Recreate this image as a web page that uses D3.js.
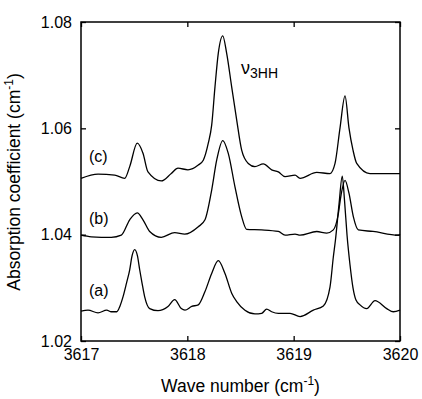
<!DOCTYPE html>
<html>
<head>
<meta charset="utf-8">
<script src="https://cdn.jsdelivr.net/npm/d3@7"></script>
<style>
  body { margin: 0; background: #fff; }
  text { font-family: "Liberation Sans", Arial, sans-serif; fill: #000; }
</style>
</head>
<body>
<script>
// spectra
const waveA = [3617.000, 3617.066, 3617.160, 3617.242, 3617.285, 3617.336, 3617.367, 3617.395, 3617.428, 3617.458,
  3617.480, 3617.505, 3617.531, 3617.552, 3617.574, 3617.599, 3617.646, 3617.724, 3617.818, 3617.881,
  3617.943, 3617.978, 3618.041, 3618.103, 3618.166, 3618.229, 3618.291, 3618.354, 3618.417, 3618.464,
  3618.542, 3618.636, 3618.699, 3618.746, 3618.793, 3618.856, 3618.966, 3619.060, 3619.185, 3619.279,
  3619.342, 3619.373, 3619.393, 3619.426, 3619.457, 3619.478, 3619.502, 3619.530, 3619.558, 3619.586,
  3619.624, 3619.687, 3619.765, 3619.875, 3619.937, 3620.000];
const absA = [1.0256, 1.0258, 1.0253, 1.0258, 1.0255, 1.0255, 1.0266, 1.0283, 1.0309, 1.0334,
  1.0360, 1.0372, 1.0360, 1.0334, 1.0309, 1.0283, 1.0261, 1.0257, 1.0265, 1.0278,
  1.0261, 1.0258, 1.0265, 1.0268, 1.0293, 1.0327, 1.0351, 1.0327, 1.0290, 1.0274,
  1.0258, 1.0251, 1.0252, 1.0260, 1.0255, 1.0252, 1.0252, 1.0246, 1.0258, 1.0266,
  1.0302, 1.0358, 1.0390, 1.0456, 1.0510, 1.0465, 1.0399, 1.0343, 1.0300, 1.0277,
  1.0268, 1.0261, 1.0276, 1.0261, 1.0255, 1.0258];

const waveB = [3617.000, 3617.097, 3617.285, 3617.379, 3617.458, 3617.529, 3617.583, 3617.646, 3617.755, 3617.881,
  3617.975, 3618.103, 3618.166, 3618.229, 3618.276, 3618.333, 3618.385, 3618.448, 3618.511, 3618.558,
  3618.699, 3618.856, 3618.919, 3619.013, 3619.060, 3619.217, 3619.311, 3619.373, 3619.418, 3619.446,
  3619.483, 3619.520, 3619.561, 3619.608, 3619.746, 3619.981, 3620.000];
const absB = [1.0399, 1.0396, 1.0395, 1.0399, 1.0428, 1.0441, 1.0428, 1.0406, 1.0395, 1.0404,
  1.0401, 1.0415, 1.0428, 1.0484, 1.0540, 1.0577, 1.0553, 1.0490, 1.0434, 1.0410,
  1.0409, 1.0406, 1.0399, 1.0401, 1.0399, 1.0406, 1.0403, 1.0409, 1.0437, 1.0475,
  1.0502, 1.0478, 1.0434, 1.0409, 1.0406, 1.0399, 1.0401];

const waveC = [3617.000, 3617.160, 3617.317, 3617.411, 3617.458, 3617.529, 3617.583, 3617.630, 3617.755, 3617.849,
  3617.912, 3618.006, 3618.103, 3618.150, 3618.197, 3618.229, 3618.260, 3618.291, 3618.333, 3618.370,
  3618.417, 3618.464, 3618.511, 3618.573, 3618.636, 3618.714, 3618.793, 3618.856, 3618.919, 3619.013,
  3619.060, 3619.217, 3619.342, 3619.389, 3619.436, 3619.483, 3619.520, 3619.558, 3619.593, 3619.718,
  3620.000];
const absC = [1.0506, 1.0514, 1.0512, 1.0506, 1.0528, 1.0572, 1.0553, 1.0518, 1.0501, 1.0515,
  1.0525, 1.0522, 1.0531, 1.0540, 1.0572, 1.0606, 1.0678, 1.0741, 1.0774, 1.0741,
  1.0678, 1.0616, 1.0559, 1.0534, 1.0528, 1.0533, 1.0522, 1.0518, 1.0509, 1.0512,
  1.0506, 1.0517, 1.0515, 1.0534, 1.0601, 1.0661, 1.0601, 1.0559, 1.0534, 1.0515,
  1.0515];

const xTicks = [3617, 3618, 3619, 3620];
const yTicks = [1.02, 1.04, 1.06, 1.08];
const curveNames = ["(a)", "(b)", "(c)"];
const nameAt = [[3617.075, 1.0285], [3617.075, 1.0420], [3617.075, 1.0537]];

const width = 422, height = 399;
const margin = { left: 81, right: 22, top: 22, bottom: 58 };

const svg = d3.select('body')
  .append('svg')
  .attr('width', width)
  .attr('height', height);

const xScale = d3.scaleLinear()
  .domain([3617, 3620])
  .range([margin.left, width - margin.right]);

const yScale = d3.scaleLinear()
  .domain([1.02, 1.08])
  .range([height - margin.bottom, margin.top]);

// axes, ticks pointing inward
const fmtY = d3.format('.2f');

svg.append('g')
  .attr('transform', 'translate(' + margin.left + ',0)')
  .call(d3.axisLeft(yScale).tickValues(yTicks).tickFormat(fmtY).tickSizeInner(-5).tickSizeOuter(0).tickPadding(9))
  .call(g => g.select('.domain').remove())
  .selectAll('text').style('font-size', '16px');

svg.append('g')
  .attr('transform', 'translate(0,' + (height - margin.bottom) + ')')
  .call(d3.axisBottom(xScale).tickValues(xTicks).tickFormat(d3.format('d')).tickSizeInner(-5).tickSizeOuter(0).tickPadding(8))
  .call(g => g.select('.domain').remove())
  .selectAll('text').style('font-size', '16px');

svg.append('g')
  .attr('transform', 'translate(' + (width - margin.right) + ',0)')
  .call(d3.axisRight(yScale).tickValues(yTicks).tickFormat('').tickSizeInner(-5).tickSizeOuter(0))
  .call(g => g.select('.domain').remove());

svg.append('g')
  .attr('transform', 'translate(0,' + margin.top + ')')
  .call(d3.axisTop(xScale).tickValues(xTicks).tickFormat('').tickSizeInner(-5).tickSizeOuter(0))
  .call(g => g.select('.domain').remove());

svg.selectAll('.tick line').attr('stroke', '#000').attr('stroke-width', 1.3);

// frame
svg.append('rect')
  .attr('x', xScale(3617))
  .attr('y', yScale(1.08))
  .attr('width', xScale(3620) - xScale(3617))
  .attr('height', yScale(1.02) - yScale(1.08))
  .attr('fill', 'none')
  .attr('stroke', '#000')
  .attr('stroke-width', 1.5);

// spectra
const line = d3.line()
  .x(d => xScale(d[0]))
  .y(d => yScale(d[1]))
  .curve(d3.curveMonotoneX);

const series = [
  d3.zip(waveA, absA),
  d3.zip(waveB, absB),
  d3.zip(waveC, absC)
];

svg.selectAll('.spectrum')
  .data(series)
  .enter()
  .append('path')
  .attr('class', 'spectrum')
  .attr('d', line)
  .attr('fill', 'none')
  .attr('stroke', '#000')
  .attr('stroke-width', 1.3)
  .attr('stroke-linejoin', 'round');

svg.selectAll('.name')
  .data(curveNames)
  .enter()
  .append('text')
  .attr('class', 'name')
  .attr('x', (d, i) => xScale(nameAt[i][0]))
  .attr('y', (d, i) => yScale(nameAt[i][1]))
  .style('font-size', '16px')
  .text(d => d);

// band label
const band = svg.append('text')
  .attr('x', 241)
  .attr('y', 74);
band.append('tspan').style('font-size', '18px').text('\u03bd');
band.append('tspan').attr('dy', 4).style('font-size', '14px').text('3HH');

// axis titles
const xTitle = svg.append('text')
  .attr('x', (xScale(3617) + xScale(3620)) / 2)
  .attr('y', 392)
  .attr('text-anchor', 'middle')
  .style('font-size', '17.5px');
xTitle.append('tspan').text('Wave number (cm');
xTitle.append('tspan').attr('dy', -7).style('font-size', '12px').text('-1');
xTitle.append('tspan').attr('dy', 7).text(')');

const yTitle = svg.append('text')
  .attr('transform', 'translate(20,182)rotate(-90)')
  .attr('text-anchor', 'middle')
  .style('font-size', '17.5px');
yTitle.append('tspan').text('Absorption coefficient (cm');
yTitle.append('tspan').attr('dy', -7).style('font-size', '12px').text('-1');
yTitle.append('tspan').attr('dy', 7).text(')');
</script>
</body>
</html>
